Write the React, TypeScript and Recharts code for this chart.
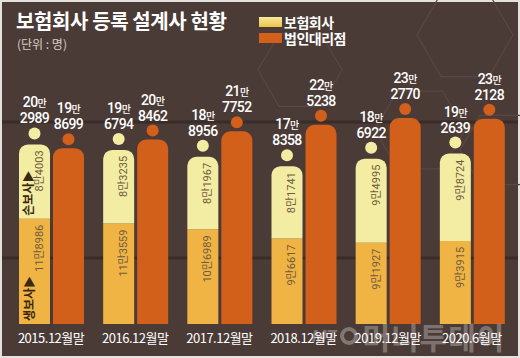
import { BarChart, Bar, XAxis, YAxis, LabelList } from "recharts";

const periods = ["2015.12월말", "2016.12월말", "2017.12월말", "2018.12월말", "2019.12월말", "2020.6월말"];
// 보험회사 = 생보사 + 손보사
const lifeInsurers = [118986, 113559, 106989, 96617, 91927, 93915];
const nonLifeInsurers = [84003, 83235, 81967, 81741, 94995, 98724];
const insurerTotals = [202989, 196794, 188956, 178358, 186922, 192639];
const agencies = [198699, 208462, 217752, 225238, 232770, 232128];

const data = periods.map((period, i) => ({
  period,
  life: lifeInsurers[i],
  nonlife: nonLifeInsurers[i],
  ga: agencies[i],
}));

const BG = "#4b3b37";
const PALE = "#f3eda3";
const GOLD = "#f0b445";
const ORANGE = "#d2601b";
const NUM_FONT = "Roboto, 'Noto Sans CJK KR', sans-serif";

const man = (v: number) => Math.floor(v / 10000);
const rest = (v: number) => String(v % 10000).padStart(4, "0");

// dot + two-line value above a bar
function topLabel(values: number[], dotFill: string, gap: number) {
  return (props: any) => {
    const { x, y, width, index } = props;
    const v = values[index];
    const cx = x + width / 2;
    const cy = y - gap;
    return (
      <g>
        <circle cx={cx} cy={cy} r={6} fill={dotFill} />
        <text x={cx} y={cy - 26} textAnchor="middle" fill="#fff" fontFamily={NUM_FONT} fontWeight={500} letterSpacing={-0.6}>
          <tspan fontSize={14}>{man(v)}</tspan>
          <tspan fontSize={10}>만</tspan>
        </text>
        <text x={cx} y={cy - 10} textAnchor="middle" fill="#fff" fontFamily={NUM_FONT} fontWeight={500} fontSize={14} letterSpacing={-0.6}>
          {rest(v)}
        </text>
      </g>
    );
  };
}

// rotated value inside a stack segment, plus the 생보사/손보사 tag on the first bar
function innerLabel(values: number[], tag: string) {
  return (props: any) => {
    const { x, y, width, height, index } = props;
    const v = values[index];
    const tx = x + width / 2 + 5;
    const ty = y + 6;
    return (
      <g>
        <text
          x={tx}
          y={ty}
          transform={`rotate(-90 ${tx} ${ty})`}
          textAnchor="end"
          dominantBaseline="central"
          fill="#6f5b3e"
          fontSize={11}
          fontFamily={NUM_FONT}
        >
          {man(v)}만{rest(v)}
        </text>
        {index === 0 && (
          <text
            x={x + 9}
            y={y + height - 3}
            transform={`rotate(-90 ${x + 9} ${y + height - 3})`}
            textAnchor="start"
            dominantBaseline="central"
            fill="#3a2810"
            fontSize={12}
            fontWeight={700}
            fontFamily="'Noto Sans CJK KR', sans-serif"
          >
            {tag}▶
          </text>
        )}
      </g>
    );
  };
}

const renderTick = (props: any) => {
  const { x, y, payload } = props;
  return (
    <text x={x} y={y + 11} textAnchor="middle" fill="#fff" fontSize={13} letterSpacing={-0.5}
      fontFamily="'Noto Sans CJK KR', sans-serif">
      {payload.value}
    </text>
  );
};

const hex = (cx: number, cy: number, r: number) =>
  [0, 1, 2, 3, 4, 5]
    .map((k) => {
      const a = (Math.PI / 3) * k;
      return `${cx + r * Math.cos(a)},${cy + r * Math.sin(a)}`;
    })
    .join(" ");

export default function App() {
  return (
    <div
      style={{
        position: "fixed",
        left: 0,
        top: 0,
        width: 520,
        height: 358,
        background: BG,
        overflow: "hidden",
        boxShadow: "inset 0 0 0 2px #e4e0dc",
        fontFamily: "'Noto Sans CJK KR', sans-serif",
      }}
    >
      {/* decorative backdrop: faint hexagons and two dark stripes */}
      <svg width={520} height={358} style={{ position: "absolute", left: 0, top: 0 }}>
        <g fill="none" stroke="#584843" strokeWidth={1.2}>
          <polygon points={hex(465, 35, 48)} />
          <polygon points={hex(300, 70, 42)} />
          <polygon points={hex(420, 130, 45)} />
          <polygon points={hex(500, 150, 40)} />
        </g>
        <line x1={2} x2={518} y1={122} y2={122} stroke="#3a2c28" strokeWidth={3} />
        <line x1={2} x2={518} y1={258} y2={258} stroke="#3a2c28" strokeWidth={3} />
      </svg>

      <div style={{ position: "absolute", left: 16, top: 6, color: "#fff", fontSize: 20, fontWeight: 700, letterSpacing: -0.4 }}>
        보험회사 등록 설계사 현황
      </div>
      <div style={{ position: "absolute", left: 17, top: 35, color: "#d6cdc8", fontSize: 12 }}>(단위 : 명)</div>

      <div style={{ position: "absolute", left: 259, top: 14, color: "#fff", fontSize: 14, fontWeight: 700, letterSpacing: -0.5, lineHeight: "16px" }}>
        <div style={{ display: "flex", alignItems: "center", gap: 2 }}>
          <span style={{ width: 23, height: 10, background: "linear-gradient(#f8ea9a, #eec24a)", display: "inline-block" }} />
          보험회사
        </div>
        <div style={{ display: "flex", alignItems: "center", gap: 2 }}>
          <span style={{ width: 23, height: 10, background: ORANGE, display: "inline-block" }} />
          법인대리점
        </div>
      </div>

      <div style={{ position: "absolute", left: 0, top: 0 }}>
        <BarChart width={520} height={358} data={data} margin={{ top: 94, right: 6, left: 9, bottom: 0 }} barSize={31} barGap={3}>
          <XAxis dataKey="period" axisLine={false} tickLine={false} height={34} interval={0} tick={renderTick} />
          <YAxis hide domain={[0, 260000]} />
          <Bar dataKey="life" stackId="ins" fill={GOLD} isAnimationActive={false}>
            <LabelList dataKey="life" content={innerLabel(lifeInsurers, "생보사")} />
          </Bar>
          <Bar dataKey="nonlife" stackId="ins" fill={PALE} radius={[9, 9, 0, 0]} isAnimationActive={false}>
            <LabelList dataKey="nonlife" content={innerLabel(nonLifeInsurers, "손보사")} />
            <LabelList dataKey="nonlife" content={topLabel(insurerTotals, PALE, 11)} />
          </Bar>
          <Bar dataKey="ga" fill={ORANGE} radius={[9, 9, 0, 0]} isAnimationActive={false}>
            <LabelList dataKey="ga" content={topLabel(agencies, ORANGE, 9)} />
          </Bar>
        </BarChart>
      </div>

      <div
        style={{
          position: "absolute",
          left: 312,
          top: 314,
          display: "flex",
          alignItems: "center",
          gap: 4,
          color: "rgba(255,255,255,0.3)",
          fontWeight: 700,
          pointerEvents: "none",
        }}
      >
        <span style={{ fontSize: 17, fontStyle: "italic", fontFamily: "Roboto, sans-serif" }}>MT</span>
        <span style={{ width: 18, height: 18, borderRadius: "50%", border: "4px solid rgba(255,255,255,0.3)", boxSizing: "border-box" }} />
        <span style={{ fontSize: 30, letterSpacing: 1 }}>머니투데이</span>
      </div>
    </div>
  );
}
